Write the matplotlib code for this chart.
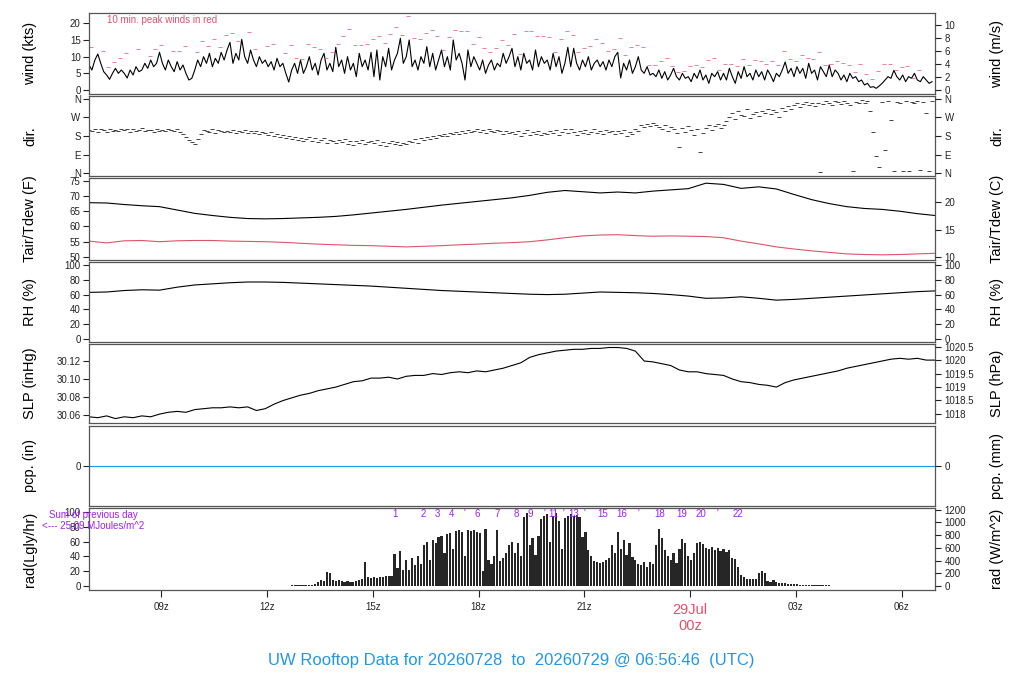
import numpy as np
import matplotlib.pyplot as plt
from matplotlib.transforms import blended_transform_factory

plt.rcParams['font.family'] = ['Liberation Sans', 'DejaVu Sans']

RED = '#DF536B'
BLUE = '#2297E6'
PURPLE = '#A020F0'

### TIME AXIS: HOURS SINCE 2026-07-28 00z
t_start = 6.95
t_end = 30.95

### 5 MIN MEAN WIND (KTS), ONE ROW PER HOUR
wind_kts = [
  7.5, 6, 9, 10.8, 8, 5.5, 4.5, 3.2, 5, 6.5, 5, 6,
  5, 3.6, 6, 4.5, 7, 5.5, 6, 8, 6.5, 9, 7, 8,
  11.3, 8, 6, 9, 7, 5.5, 8.5, 6, 7.5, 5, 3, 3.5,
  6, 9, 7, 10, 8, 11, 7, 9.5, 8, 11.3, 9, 12,
  14.3, 8, 11, 9, 15.2, 10, 8, 12, 9, 7, 10, 8,
  9, 7, 8.5, 6, 9.5, 7, 8, 5, 2.4, 6, 8, 5,
  9, 5, 7, 10, 6, 8, 4.5, 9, 11, 6, 8, 5.5,
  12.8, 7, 9, 5, 10, 6, 8, 4, 11, 7, 9, 6,
  11.3, 4, 12, 3, 10, 7, 12.5, 6, 9, 11, 15.5, 8,
  10, 15, 7, 9, 6, 10, 8, 13, 7, 11, 6, 9,
  12, 7, 10, 6, 15, 9, 11, 8, 3, 12, 7, 10,
  8, 6, 9, 5, 7.5, 9, 6, 8, 7, 11, 8, 10,
  12.5, 7, 10, 6, 11, 8, 9, 6, 12, 7, 10, 8,
  9, 6, 11, 7, 10, 5, 8, 12.8, 7, 12.5, 8, 6,
  9, 7, 10, 6, 8, 9, 7, 8.5, 6, 9, 7, 10,
  11.3, 3.6, 8, 6, 9, 5, 7, 10, 6, 5, 7, 4.5,
  5, 4, 6, 3.5, 5.5, 3, 4.5, 6.5, 4, 3, 5, 3.5,
  4, 2.5, 5, 3.5, 6, 3, 4.5, 2, 5, 4, 5.5, 3,
  5, 3, 6.5, 4, 2, 5.5, 3.5, 7, 4, 5, 3, 6,
  4, 5.5, 3, 6, 4.5, 2.5, 5, 4, 6, 8.4, 5, 6.5,
  4, 7, 5, 6.5, 3.5, 8, 5, 6, 3, 7, 5.5, 4,
  7.5, 4, 6, 5, 3, 4.5, 2.5, 5, 3.5, 4, 2.5, 3,
  1.5, 2, 0.8, 1, 0.5, 1.2, 2, 3, 4, 3.5, 5.9, 4,
  3, 4.5, 2.5, 4, 3.5, 5, 3, 2.5, 4, 3, 2, 2.5,
]

### 10 MIN PEAK WIND (KTS), STARTING 07z
nan = np.nan
peak_kts = [
  12.8, nan, 11.6, 6.9, 8.4, 9.6, 11.0, nan, 12.2, nan, 10.1, 12.2,
  13.4, nan, 11.6, 11.6, 13.1, nan, 11.3, 14.6, 13.1, 15.2, 12.8, 16.4,
  17.0, 14.6, nan, 17.3, 12.2, nan, 13.1, 13.7, nan, 11.0, 13.4, 9.6,
  9.3, 13.7, 12.8, 12.2, 9.6, 11.3, 13.7, 16.1, 18.2, 13.4, 13.4, 13.7,
  15.2, 16.1, 14.0, 16.7, 18.8, 16.4, 22.1, 15.5, 15.2, 17.0, 17.9, 16.1,
  11.9, 15.8, 17.9, 17.6, 17.6, 13.7, 15.8, 12.5, 11.3, 12.5, 14.9, 13.4,
  16.7, 10.7, 17.6, 17.6, 16.1, 16.1, 15.8, 11.3, 15.2, 17.6, 16.4, 11.3,
  12.5, 13.1, 15.2, 14.0, 11.6, 12.2, 15.5, 10.4, 12.8, 13.4, 12.8, 7.5,
  7.5, 8.7, 9.6, 7.2, 5.4, 5.7, 7.2, 7.5, 6.9, 9.0, 9.6, 6.0,
  7.8, 7.8, 7.2, 9.3, 7.5, 9.0, 8.7, 7.8, 8.7, 7.5, 11.6, 9.3,
  8.7, 10.4, 9.6, 9.3, 11.3, 7.5, 7.8, 8.7, 8.1, 7.5, 5.4, 7.8,
  4.8, 3.3, 5.7, 7.8, 7.8, 6.0, 6.9, 7.2, 3.6, 6.0, nan, nan,
]

### 5 MIN WIND DIRECTION (DEG)
dir_deg = [
  210, 205, 215, 200, 212, 208, 198, 214, 206, 210, 202, 216,
  208, 212, 200, 214, 205, 210, 218, 203, 207, 211, 199, 213,
  206, 210, 202, 215, 208, 204, 212, 200, 190, 175, 160, 150,
  140, 165, 190, 210, 205, 200, 212, 196, 208, 202, 198, 206,
  200, 210, 195, 204, 199, 208, 193, 202, 197, 205, 190, 200,
  196, 186, 200, 180, 192, 175, 185, 170, 180, 165, 175, 160,
  170, 158, 165, 175, 155, 168, 150, 162, 172, 148, 160, 155,
  145, 160, 150, 165, 140, 155, 135, 158, 148, 162, 142, 150,
  155, 145, 160, 138, 152, 130, 148, 158, 140, 150, 135, 145,
  140, 155, 150, 165, 145, 170, 160, 175, 165, 180, 170, 185,
  178, 190, 182, 196, 188, 200, 192, 205, 196, 210, 200, 206,
  212, 200, 208, 195, 215, 205, 198, 210, 202, 190, 206, 196,
  200, 188, 205, 180, 195, 210, 185, 198, 192, 205, 183, 196,
  190, 204, 196, 208, 186, 200, 212, 194, 215, 199, 185, 205,
  196, 208, 190, 200, 215, 195, 205, 188, 210, 198, 203, 192,
  205, 196, 210, 180, 200, 190, 215, 205, 235, 222, 240, 228,
  245, 232, 225, 215, 235, 205, 226, 212, 195, 126, 218, 200,
  230, 208, 185, 215, 102, 195, 220, 235, 210, 228, 240, 218,
  235, 255, 270, 290, 265, 300, 280, 275, 310, 268, 285, 295,
  278, 300, 290, 310, 285, 305, 295, 270, 315, 300, 325, 310,
  330, 340, 320, 335, 345, 330, 338, 326, 342, 5, 335, 348,
  340, 332, 350, 345, 336, 352, 342, 330, 8, 346, 340, 355,
  338, 348, 301, 199, 83, 29, 345, 112, 352, 258, 10, 345,
  340, 8, 350, 12, 345, 338, 352, 15, 346, 292, 10, 350,
]

### 30 MIN AIR TEMP, DEW POINT (F) AND RH (%)
tair_f = [67.8, 67.7, 67.2, 66.8, 66.5, 65.4, 64.3, 63.6, 63.0, 62.6, 62.5, 62.6,
          62.8, 63.0, 63.3, 63.8, 64.4, 65.0, 65.6, 66.3, 67.0, 67.6, 68.2, 68.8,
          69.4, 70.2, 71.2, 71.8, 71.4, 71.0, 71.3, 71.0, 71.6, 72.0, 72.4, 74.2,
          73.8, 72.5, 73.0, 72.3, 70.5, 68.8, 67.5, 66.5, 65.9, 65.6, 65.0, 64.2, 63.6]
tdew_f = [55.2, 54.6, 55.3, 55.4, 55.0, 55.3, 55.4, 55.4, 55.2, 55.1, 55.0, 54.8,
          54.5, 54.2, 54.0, 53.8, 53.7, 53.5, 53.3, 53.5, 53.7, 54.0, 54.2, 54.5,
          54.7, 55.0, 55.6, 56.3, 56.9, 57.2, 57.3, 57.0, 56.8, 56.9, 56.8, 56.7,
          56.3, 55.2, 54.3, 53.3, 52.6, 52.0, 51.5, 51.0, 50.8, 50.7, 50.8, 51.0, 51.2]
rh_pct = [63, 63.5, 65.5, 66.5, 66, 70, 73, 74.5, 76, 77, 77, 76.5,
          75.5, 74.5, 73.5, 72.5, 71.5, 70, 68.5, 67, 65.5, 64.5, 63.5, 62.5,
          61.5, 60.5, 60, 60.5, 62, 63.5, 63, 62.5, 61.5, 60, 58, 55,
          55.5, 57, 55, 52.5, 53.5, 55, 56.5, 58, 59.5, 61, 62.5, 64, 65]

### 15 MIN SEA LEVEL PRESSURE (INHG)
slp_inhg = [
  30.058, 30.057, 30.059, 30.056, 30.058, 30.057, 30.059, 30.058,
  30.061, 30.063, 30.064, 30.063, 30.066, 30.067, 30.068, 30.068,
  30.069, 30.068, 30.069, 30.065, 30.067, 30.072, 30.076, 30.079,
  30.082, 30.084, 30.087, 30.089, 30.091, 30.094, 30.097, 30.098,
  30.101, 30.101, 30.102, 30.100, 30.103, 30.104, 30.104, 30.106,
  30.105, 30.107, 30.108, 30.107, 30.109, 30.108, 30.110, 30.112,
  30.115, 30.118, 30.124, 30.127, 30.129, 30.131, 30.132, 30.133,
  30.133, 30.134, 30.134, 30.135, 30.135, 30.134, 30.131, 30.120,
  30.119, 30.117, 30.115, 30.110, 30.108, 30.108, 30.106, 30.105,
  30.104, 30.100, 30.097, 30.096, 30.094, 30.093, 30.091, 30.096,
  30.099, 30.101, 30.103, 30.105, 30.107, 30.109, 30.112, 30.114,
  30.116, 30.118, 30.120, 30.122, 30.123, 30.122, 30.123, 30.121, 30.121,
]

### HOURLY PRECIP (IN)
pcp_in = [0] * 25

### 5 MIN SOLAR RADIATION (LANGLEY/HR) FROM 11:57z
rad_start = 11.95
rad_ly = [
  0, 0, 0, 0, 0, 0, 0.5, 0.5, 0.6, 0.7, 0.8, 0.9,
  1.0, 1.1, 1.3, 1.5, 2, 3, 5, 8, 7, 19, 18, 8,
  7, 8, 7, 6, 7, 6, 6, 7, 8, 10, 32, 12,
  11, 12, 11, 12, 12, 13, 14, 13, 43, 25, 47, 22,
  35, 22, 38, 28, 40, 30, 55, 60, 35, 62, 58, 66,
  68, 45, 70, 72, 50, 74, 75, 73, 40, 76, 74, 75,
  73, 72, 20, 77, 35, 30, 40, 76, 34, 38, 45, 55,
  60, 45, 58, 40, 93, 98, 55, 65, 42, 67, 90, 94,
  97, 60, 95, 98, 88, 50, 92, 95, 97, 94, 96, 93,
  66, 73, 49, 40, 34, 32, 31, 33, 35, 38, 55, 45,
  73, 50, 62, 42, 58, 39, 35, 30, 28, 33, 26, 32,
  30, 55, 77, 65, 49, 40, 35, 45, 31, 50, 63, 58,
  40, 35, 45, 58, 59, 57, 52, 50, 53, 48, 51, 47,
  50, 46, 49, 38, 36, 26, 15, 12, 9, 9, 9, 10,
  18, 20, 17, 7, 6, 8, 5, 4, 4, 3.5, 3, 3,
  2.5, 2.5, 2, 2, 2, 1.5, 1.5, 1.2, 1.2, 1, 1, 0.8,
  0.8, 0.6, 0.5, 0.4, 0.3, 0.3, 0.2, 0.2, 0, 0, 0, 0,
]

### HOURS WHERE THE RUNNING SUM PASSED EACH MJ/m^2
mj_hours = [15.63, 16.43, 16.82, 17.22, 17.59, 17.96, 18.52, 19.06, 19.46, 19.86, 20.11,
            20.40, 20.71, 20.99, 21.53, 22.07, 22.53, 23.15, 23.77, 24.31, 24.77, 25.37]
mj_labels = ['1', '2', '3', '4', "'", '6', '7', '8', '9', "'", '11',
             "'", '13', "'", '15', '16', "'", '18', '19', '20', "'", '22']

x_ticks = [9, 12, 15, 18, 21, 24, 27, 30]
x_tick_labels = ['09z', '12z', '15z', '18z', '21z', '29Jul\n00z', '03z', '06z']

### TIME ARRAYS
t5 = t_start + np.arange(len(wind_kts)) / 12.0
t_peak = 7.0 + np.arange(len(peak_kts)) / 6.0
t_dir = t_start + np.arange(len(dir_deg)) / 12.0
t30 = t_start + np.arange(len(tair_f)) / 2.0
t15 = t_start + np.arange(len(slp_inhg)) / 4.0
t_pcp = t_start + np.arange(len(pcp_in))
t_rad = rad_start + np.arange(len(rad_ly)) / 12.0

##### FIGURE AND PANELS
W, H = 1024, 700
fig = plt.figure(figsize=(W / 100, H / 100), dpi=100)

def makePanel(top, bot):
  ax = fig.add_axes([89 / W, 1 - bot / H, 846 / W, (bot - top) / H])
  ax.set_xlim(t_start, t_end)
  for s in ax.spines.values():
    s.set_color('#555555')
    s.set_linewidth(0.9)
  ax.tick_params(axis='y', direction='out', length=4, width=0.8, labelsize=7, colors='#222222', pad=2)
  ax.tick_params(axis='x', bottom=False, labelbottom=False)
  return ax

def rightAxis(ax, pos, labels):
  axr = ax.twinx()
  axr.set_ylim(ax.get_ylim())
  axr.set_yticks(pos)
  axr.set_yticklabels(labels)
  axr.tick_params(axis='y', direction='out', length=4, width=0.8, labelsize=7, colors='#222222', pad=3)
  axr.tick_params(axis='x', bottom=False, labelbottom=False)
  for s in axr.spines.values():
    s.set_visible(False)
  return axr

def sideLabels(top, bot, left, right):
  yc = 1 - (top + bot) / 2 / H
  fig.text(30 / W, yc, left, rotation=90, ha='center', va='center', fontsize=10.5)
  fig.text(997 / W, yc, right, rotation=90, ha='center', va='center', fontsize=10.5)

### WIND
ax = makePanel(13, 94)
ax.plot(t5, wind_kts, color='black', lw=0.8)
ax.plot(t_peak, peak_kts, ls='none', marker='_', ms=3, mew=0.6, color=RED, alpha=0.85)
ax.set_ylim(-1.2, 23.1)
ax.set_yticks([0, 5, 10, 15, 20])
ms = np.arange(0, 11, 2)
rightAxis(ax, ms * 1.94384, [str(m) for m in ms])
sideLabels(13, 94, 'wind (kts)', 'wind (m/s)')
fig.text(107 / W, 1 - 20 / H, '10 min. peak winds in red', color=RED, fontsize=7, ha='left', va='center')

### DIRECTION
ax = makePanel(96, 176)
ax.plot(t_dir, dir_deg, ls='none', marker='_', ms=2.5, mew=0.6, color='#222222')
ax.set_ylim(-14.4, 374.4)
compass = ['N', 'E', 'S', 'W', 'N']
ax.set_yticks([0, 90, 180, 270, 360])
ax.set_yticklabels(compass)
rightAxis(ax, [0, 90, 180, 270, 360], compass)
sideLabels(96, 176, 'dir.', 'dir.')

### TEMPERATURE
ax = makePanel(178, 260)
ax.plot(t30, tair_f, color='black', lw=0.8)
ax.plot(t30, tdew_f, color=RED, lw=0.8)
ax.set_ylim(49.0, 75.9)
ax.set_yticks([50, 55, 60, 65, 70, 75])
cs = [10, 15, 20]
rightAxis(ax, [c * 1.8 + 32 for c in cs], [str(c) for c in cs])
sideLabels(178, 260, 'Tair/Tdew (F)', 'Tair/Tdew (C)')

### RH
ax = makePanel(262, 342)
ax.plot(t30, rh_pct, color='black', lw=0.8)
ax.set_ylim(-4, 104)
ax.set_yticks(range(0, 101, 20))
rightAxis(ax, list(range(0, 101, 20)), [str(v) for v in range(0, 101, 20)])
sideLabels(262, 342, 'RH (%)', 'RH (%)')

### SLP
ax = makePanel(344, 423)
ax.plot(t15, slp_inhg, color='black', lw=0.8)
ax.set_ylim(30.0511, 30.1389)
ax.set_yticks([30.06, 30.08, 30.10, 30.12])
ax.set_yticklabels(['30.06', '30.08', '30.10', '30.12'])
hpa = [1018, 1018.5, 1019, 1019.5, 1020, 1020.5]
rightAxis(ax, [p * 0.0295300 for p in hpa], ['1018', '1018.5', '1019', '1019.5', '1020', '1020.5'])
sideLabels(344, 423, 'SLP (inHg)', 'SLP (hPa)')

### PRECIP
ax = makePanel(426, 506)
ax.plot(t_pcp, pcp_in, color=BLUE, lw=0.8)
ax.set_ylim(-1, 1)
ax.set_yticks([0])
rightAxis(ax, [0], ['0'])
sideLabels(426, 506, 'pcp. (in)', 'pcp. (mm)')

### RADIATION
ax = makePanel(508, 590)
ax.bar(t_rad, rad_ly, width=0.75 / 12.0, color='#262626', linewidth=0)
ax.set_ylim(-5.4, 105.4)
ax.set_yticks(range(0, 101, 20))
wm = list(range(0, 1201, 200))
rightAxis(ax, [w / 11.63 for w in wm], [str(w) for w in wm])
sideLabels(508, 590, 'rad(Lgly/hr)', 'rad (W/m^2)')
ax.set_xlim(t_start, t_end)
ax.set_xticks(x_ticks)
ax.set_xticklabels(x_tick_labels)
ax.tick_params(axis='x', bottom=True, labelbottom=True, direction='out', length=5, width=0.8,
               labelsize=7, colors='#222222', pad=4)
lab = ax.get_xticklabels()[x_ticks.index(24)]
lab.set_color(RED)
lab.set_fontsize(10.5)
tr = blended_transform_factory(ax.transData, ax.transAxes)
for h, s in zip(mj_hours, mj_labels):
  ax.text(h, 0.985, s, transform=tr, color=PURPLE, fontsize=7, ha='center', va='top')
fig.text(93 / W, 1 - 515 / H, 'Sum of previous day', color=PURPLE, fontsize=7, ha='center', va='center')
fig.text(93 / W, 1 - 526 / H, '<--- 25.09 MJoules/m^2', color=PURPLE, fontsize=7, ha='center', va='center')

### TITLE
fig.text(511 / W, 1 - 660 / H, 'UW Rooftop Data for 20260728  to  20260729 @ 06:56:46  (UTC)',
         color=BLUE, fontsize=12, ha='center', va='center')

fig.savefig('out.png', dpi=100)
